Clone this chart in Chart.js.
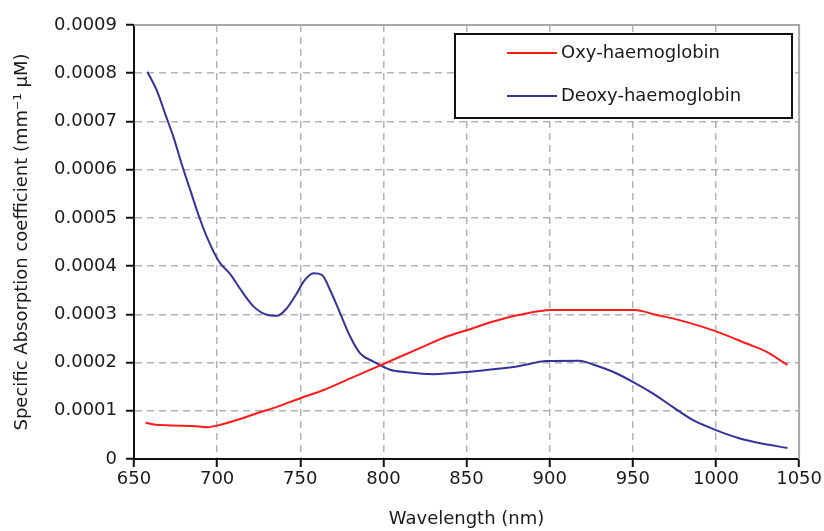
<!DOCTYPE html>
<html>
<head>
<meta charset="utf-8">
<script src="https://cdn.jsdelivr.net/npm/chart.js@4"></script>
<style>
  html, body { margin: 0; padding: 0; background: #fff; }
  #wrap { width: 824px; height: 531px; }
</style>
</head>
<body>
<div id="wrap"><canvas id="absorption" width="824" height="531"></canvas></div>
<script>
"use strict"
var oxyLabel = 'Oxy-haemoglobin';
var deoxyLabel = 'Deoxy-haemoglobin';

var oxyWavelength = [657, 663, 688, 694, 702, 712, 724, 736, 750, 764, 778, 794, 810, 824, 838, 851, 866, 882, 901, 951, 964, 978, 992, 1006, 1018, 1030, 1043];
var oxyValues = [0.000075, 0.000071, 0.000068, 0.000066, 0.000071, 0.000081, 0.000095, 0.000108, 0.000126, 0.000143, 0.000164, 0.000188, 0.000212, 0.000233, 0.000254, 0.000268, 0.000285, 0.000299, 0.000309, 0.000309, 0.000299, 0.000288, 0.000274, 0.000257, 0.000240, 0.000223, 0.000195];

var deoxyWavelength = [658, 664, 669, 674, 679, 684, 689, 694, 701, 708, 714, 722, 730, 736, 742, 748, 752, 758, 763, 768, 774, 780, 786, 794, 804, 814, 830, 852, 866, 882, 898, 918, 926, 938, 950, 962, 974, 986, 1000, 1014, 1026, 1043];
var deoxyValues = [0.000803, 0.000762, 0.000713, 0.000665, 0.000608, 0.000556, 0.000504, 0.000459, 0.000410, 0.000383, 0.000352, 0.000316, 0.000299, 0.000297, 0.000313, 0.000344, 0.000368, 0.000385, 0.000382, 0.000350, 0.000302, 0.000254, 0.000219, 0.000202, 0.000185, 0.000180, 0.000176, 0.000181, 0.000186, 0.000193, 0.000203, 0.000204, 0.000196, 0.000181, 0.000160, 0.000136, 0.000108, 0.000081, 0.000060, 0.000043, 0.000033, 0.000023];

var xTicks = [650, 700, 750, 800, 850, 900, 950, 1000, 1050];
var yTicks = [0, 0.0001, 0.0002, 0.0003, 0.0004, 0.0005, 0.0006, 0.0007, 0.0008, 0.0009];

function toPoints(xs, ys) {
    var pts = [];
    for (var i = 0; i < xs.length; i++) {
        pts.push({ x: xs[i], y: ys[i] });
    }
    return pts;
}

Chart.defaults.font.family = "'DejaVu Sans', sans-serif";
Chart.defaults.font.size = 18;
Chart.defaults.color = '#1a1a1a';

// grey frame on top/right of the plot, like the original
var frame = {
    id: 'frame',
    afterDatasetsDraw: function(chart) {
        var a = chart.chartArea, ctx = chart.ctx;
        ctx.save();
        ctx.strokeStyle = '#a8a8a8';
        ctx.lineWidth = 2;
        ctx.beginPath();
        ctx.moveTo(a.left, a.top);
        ctx.lineTo(a.right, a.top);
        ctx.lineTo(a.right, a.bottom);
        ctx.stroke();
        ctx.restore();
    }
};

// boxed legend inside the plot
var boxLegend = {
    id: 'boxLegend',
    afterDraw: function(chart) {
        var ctx = chart.ctx;
        var x0 = 455, y0 = 34, w = 337, h = 84;
        ctx.save();
        ctx.fillStyle = '#fff';
        ctx.fillRect(x0, y0, w, h);
        ctx.strokeStyle = '#111';
        ctx.lineWidth = 2;
        ctx.strokeRect(x0, y0, w, h);
        ctx.font = "18px 'DejaVu Sans', sans-serif";
        ctx.textBaseline = 'middle';
        chart.data.datasets.forEach(function(ds, i) {
            var y = 53 + i * 43;
            ctx.strokeStyle = ds.borderColor;
            ctx.lineWidth = 2;
            ctx.beginPath();
            ctx.moveTo(507, y);
            ctx.lineTo(557, y);
            ctx.stroke();
            ctx.fillStyle = '#1a1a1a';
            ctx.fillText(ds.label, 561, y);
        });
        ctx.restore();
    }
};

var ctx = document.getElementById('absorption');
var absorptionChart = new Chart(ctx, {
    type: 'line',
    data: {
        datasets: [{
            label: oxyLabel,
            data: toPoints(oxyWavelength, oxyValues),
            borderColor: '#ff1a1a',
            borderWidth: 2,
            pointRadius: 0,
            cubicInterpolationMode: 'monotone',
            fill: false
        }, {
            label: deoxyLabel,
            data: toPoints(deoxyWavelength, deoxyValues),
            borderColor: '#33339a',
            borderWidth: 2,
            pointRadius: 0,
            cubicInterpolationMode: 'monotone',
            fill: false
        }]
    },
    options: {
        responsive: false,
        animation: false,
        layout: {
            padding: { top: 25, right: 24, left: 0, bottom: 0 }
        },
        plugins: {
            legend: { display: false },
            tooltip: { enabled: false }
        },
        scales: {
            x: {
                type: 'linear',
                min: 650,
                max: 1050,
                afterBuildTicks: function(scale) {
                    scale.ticks = xTicks.map(function(v) { return { value: v }; });
                },
                afterFit: function(scale) {
                    scale.height = 72;
                },
                ticks: {
                    padding: 2,
                    maxRotation: 0,
                    autoSkip: false,
                    callback: function(v) { return String(v); }
                },
                grid: {
                    color: '#b4b4b4',
                    lineWidth: 1.5,
                    tickColor: '#111',
                    tickWidth: 2,
                    tickLength: 8,
                    tickBorderDash: []
                },
                border: { color: '#111', width: 2, dash: [7, 5] },
                title: {
                    display: true,
                    text: 'Wavelength (nm)',
                    padding: { top: 0, bottom: 1 }
                }
            },
            y: {
                type: 'linear',
                min: 0,
                max: 0.0009,
                afterBuildTicks: function(scale) {
                    scale.ticks = yTicks.map(function(v) { return { value: v }; });
                },
                afterFit: function(scale) {
                    scale.width = 134;
                },
                ticks: {
                    padding: 9,
                    autoSkip: false,
                    callback: function(v) { return v === 0 ? '0' : v.toFixed(4); }
                },
                grid: {
                    color: '#b4b4b4',
                    lineWidth: 1.5,
                    tickColor: '#111',
                    tickWidth: 2,
                    tickLength: 8,
                    tickBorderDash: []
                },
                border: { color: '#111', width: 2, dash: [7, 5] },
                title: {
                    display: true,
                    text: 'Specific Absorption coefficient (mm⁻¹ µM)',
                    padding: { top: 12, bottom: 0 }
                }
            }
        }
    },
    plugins: [frame, boxLegend]
});
</script>
</body>
</html>
